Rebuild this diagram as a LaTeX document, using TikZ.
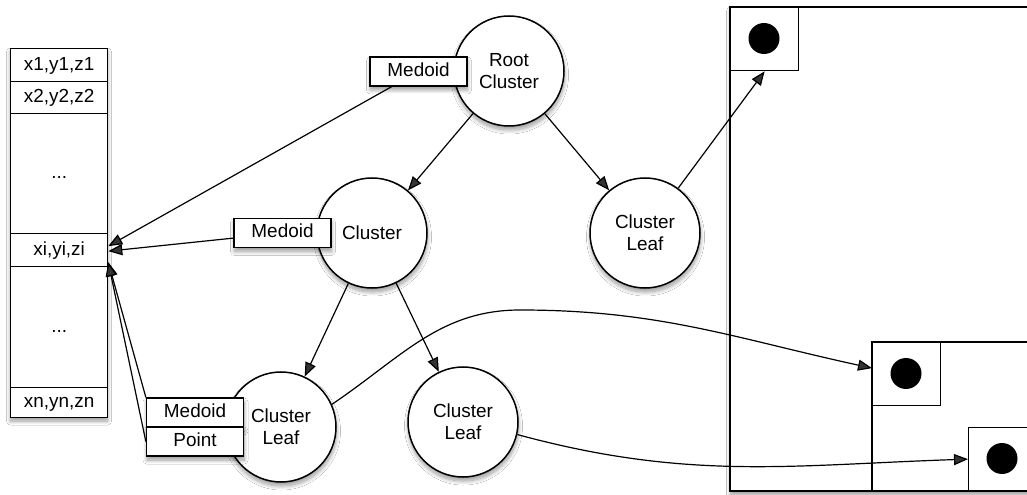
\documentclass[tikz,border=0pt]{standalone}
\usepackage{fontspec}
\setmainfont{Liberation Sans}
\usetikzlibrary{arrows.meta,shadows.blur}
\begin{document}
\begin{tikzpicture}[x=1bp,y=-1bp,
  every node/.style={font=\fontsize{19}{22}\selectfont, line width=1.3bp},
  sh/.style={blur shadow={shadow xshift=0.5bp, shadow yshift=-4bp, shadow blur radius=4bp, shadow blur steps=16, shadow opacity=40}},
  circ/.style={circle, draw, fill=white, minimum size=110bp, inner sep=0pt, align=center, line width=1.5bp, sh},
  lbl/.style={draw, fill=white, minimum width=97bp, minimum height=29bp, inner sep=0pt, text height=14bp, text depth=4bp, sh},
  row/.style={draw, fill=white, minimum width=97bp, inner sep=0pt, anchor=north west, text height=14bp, text depth=4bp},
  cell/.style={draw, fill=white, minimum width=68bp, minimum height=63bp, inner sep=0pt, anchor=north west},
  arr/.style={-{Triangle[length=14bp,width=11bp]}, line width=1.2bp},
]
\clip (0,0) rectangle (1027,495);
\fill[white] (0,0) rectangle (1027,495);

% point list
\path[fill=white, sh] (10,48) rectangle (107,417);
\node[row, minimum height=33bp] (r1) at (10,48) {x1,y1,z1};
\node[row, minimum height=32bp] (r2) at (10,81) {x2,y2,z2};
\node[row, minimum height=120bp] (rd1) at (10,113) {...};
\node[row, minimum height=33bp] (xi) at (10,233) {xi,yi,zi};
\node[row, minimum height=121bp] (rd2) at (10,266) {...};
\node[row, minimum height=30bp] (xn) at (10,387) {xn,yn,zn};

% spatial boxes
\draw[fill=white, line width=1.3bp, sh] (730,7) rectangle (1060,491);
\draw[line width=1.3bp] (872,342) rectangle (1060,491);
\node[cell] (b1) at (730,7) {};
\node[cell] (b2) at (872,342) {};
\node[cell] (b3) at (968,427) {};
\fill (764,38.5) circle (15.5bp);
\fill (906,373.5) circle (15.5bp);
\fill (1002,458.5) circle (15.5bp);

% tree
\node[circ] (root) at (509,71) {Root\\Cluster};
\node[circ] (cl) at (372,233) {Cluster};
\node[circ] (lr) at (645,233) {Cluster\\Leaf};
\node[circ] (ll) at (281,427) {Cluster\\Leaf};
\node[circ] (lm) at (463,422) {Cluster\\Leaf};

\node[lbl] (rm) at (418.5,71.5) {Medoid};
\node[lbl] (cm) at (282.5,233) {Medoid};
\node[lbl] (mm) at (195,412.5) {Medoid};
\node[lbl] (pm) at (195,441.5) {Point};

\draw[arr] (root) -- (cl);
\draw[arr] (root) -- (lr);
\draw[arr] (cl) -- (ll);
\draw[arr] (cl) -- (lm);

\draw[arr] (rm) -- ([yshift=4bp]xi.east);
\draw[arr] (cm) -- ([yshift=-1bp]xi.east);
\draw[arr] (mm.north west) -- ([yshift=5bp]xi.south east);
\draw[arr] (pm.west) -- ([yshift=5bp]xi.south east);

\draw[arr] (lr) -- (b1.south);
\coordinate (c1) at (520,310);
\draw[arr] (ll.24) .. controls (402,357) and (440,310) .. (c1)
  .. controls (659,310) and (734,338) .. ([yshift=6bp]b2.west);
\draw[arr] (lm.-13) .. controls (688,481) and (791,465) .. (b3.west);
\end{tikzpicture}
\end{document}
